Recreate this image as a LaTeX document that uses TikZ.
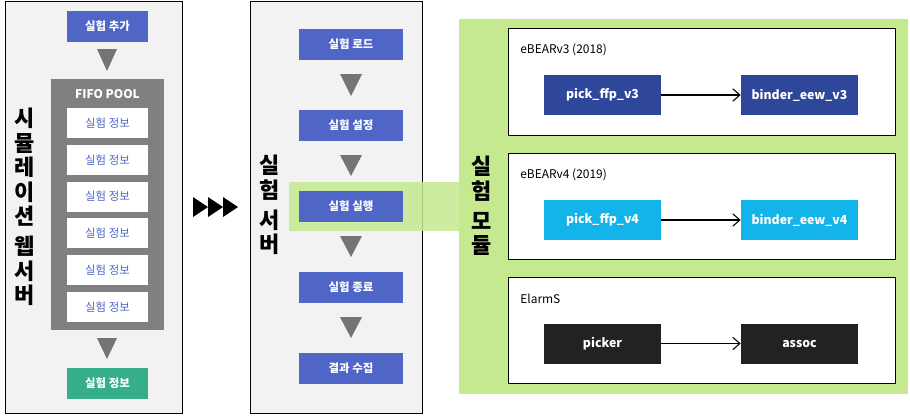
\documentclass[tikz,border=0pt]{standalone}
\usepackage{fontspec}
\setmainfont{Noto Sans CJK KR}
\usetikzlibrary{positioning, arrows.meta}

\definecolor{panelgray}{HTML}{F2F2F2}
\definecolor{stepblue}{HTML}{4F66C7}
\definecolor{poolgray}{HTML}{808080}
\definecolor{trigray}{HTML}{747474}
\definecolor{outgreen}{HTML}{35AE89}
\definecolor{modgreen}{HTML}{C4E98F}
\definecolor{vthree}{HTML}{2F479B}
\definecolor{vfour}{HTML}{12B4EA}
\definecolor{elarms}{HTML}{222222}

\tikzset{
  stepbox/.style={fill=stepblue, text=white, font=\fontsize{6.5}{7}\selectfont\bfseries,
    minimum width=1.62cm, minimum height=0.62cm, inner sep=0pt},
  infobox/.style={fill=white, text=stepblue, font=\fontsize{6.5}{7}\selectfont,
    minimum width=1.62cm, minimum height=0.6cm, inner sep=0pt},
  midbox/.style={stepbox, minimum width=2.08cm},
  modbox/.style={fill=#1, text=white, font=\fontsize{7}{8}\selectfont\bfseries,
    minimum width=2.34cm, minimum height=0.8cm, inner sep=0pt},
  modlabel/.style={anchor=west, font=\fontsize{6.8}{8}\selectfont, inner sep=0pt},
  vtitle/.style={align=center, font=\fontsize{12.5}{14}\selectfont\bfseries, inner sep=0pt},
  downtri/.style={fill=trigray},
}

\begin{document}
\begin{tikzpicture}[x=0.02cm, y=-0.02cm, >={Straight Barb[length=4pt, width=7pt]}]
    \useasboundingbox (0,0) rectangle (910,416);

    % left panel
    \draw[fill=panelgray] (5.5,1) rectangle (182,413);
    \node[vtitle] (webtitle) at (25,207) {시\\뮬\\레\\이\\션\\[3pt]웹\\서\\버};
    \node[stepbox] (add) at (107.5,26.5) {실험 추가};
    \fill[downtri] (97,49) -- (117,49) -- (107,71) -- cycle;
    \fill[poolgray] (51,79) rectangle (164,330);
    \node[text=white, font=\fontsize{6.8}{8}\selectfont\bfseries] (pool) at (107.5,94) {FIFO POOL};
    \node[infobox] (info1) at (107.5,123) {실험 정보};
    \node[infobox] (info2) at (107.5,160) {실험 정보};
    \node[infobox] (info3) at (107.5,196.5) {실험 정보};
    \node[infobox] (info4) at (107.5,233) {실험 정보};
    \node[infobox] (info5) at (107.5,270) {실험 정보};
    \node[infobox] (info6) at (107.5,307) {실험 정보};
    \fill[downtri] (97,338) -- (117,338) -- (107,359) -- cycle;
    \node[stepbox, fill=outgreen] (out) at (107.5,383) {실험 정보};

    % triple arrow
    \fill (193,197) -- (208,207) -- (193,217) -- cycle;
    \fill (208,197) -- (223,207) -- (208,217) -- cycle;
    \fill (223,197) -- (238,207) -- (223,217) -- cycle;

    % middle panel
    \draw[fill=panelgray] (250,1) rectangle (422,413);
    \node[vtitle] (srvtitle) at (270,205) {실\\험\\[3pt]서\\버};

    % right panel
    \fill[modgreen] (459,19) rectangle (908,394);
    \fill[modgreen, fill opacity=0.85] (289,182) rectangle (459,231);
    \node[vtitle] (modtitle) at (482,206) {실\\험\\[3pt]모\\듈};

    \node[midbox] (load) at (351,44.5) {실험 로드};
    \fill[downtri] (340,74) -- (362,74) -- (351,96) -- cycle;
    \node[midbox] (setup) at (351,125.5) {실험 설정};
    \fill[downtri] (340,155) -- (362,155) -- (351,176) -- cycle;
    \node[midbox] (run) at (351,206.5) {실험 실행};
    \fill[downtri] (340,236) -- (362,236) -- (351,257) -- cycle;
    \node[midbox] (finish) at (351,287) {실험 종료};
    \fill[downtri] (340,317) -- (362,317) -- (351,338) -- cycle;
    \node[midbox] (collect) at (351,368) {결과 수집};

    \draw[fill=white] (508,28) rectangle (895,135);
    \draw[fill=white] (508,153) rectangle (895,259);
    \draw[fill=white] (508,277) rectangle (895,383);

    \node[modlabel] (lv3) at (520,50) {eBEARv3 (2018)};
    \node[modlabel] (lv4) at (520,175) {eBEARv4 (2019)};
    \node[modlabel] (lel) at (520,299) {ElarmS};

    \node[modbox=vthree] (pick3) at (602.5,95) {pick\_ffp\_v3};
    \node[modbox=vthree] (bind3) at (799.5,95) {binder\_eew\_v3};
    \node[modbox=vfour] (pick4) at (602.5,220) {pick\_ffp\_v4};
    \node[modbox=vfour] (bind4) at (799.5,220) {binder\_eew\_v4};
    \node[modbox=elarms] (picker) at (602.5,343.5) {picker};
    \node[modbox=elarms] (assoc) at (799.5,343.5) {assoc};

    \draw[->, line width=0.6pt] (pick3) -- (bind3);
    \draw[->, line width=0.6pt] (pick4) -- (bind4);
    \draw[->, line width=0.6pt] (picker) -- (assoc);

\end{tikzpicture}
\end{document}
